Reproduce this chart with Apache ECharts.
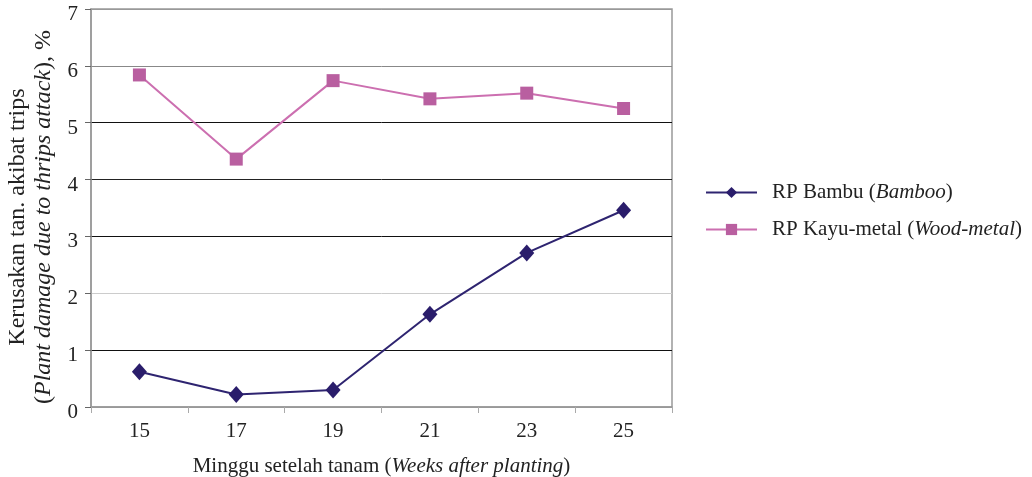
<!DOCTYPE html>
<html><head><meta charset="utf-8">
<script src="https://cdn.jsdelivr.net/npm/echarts@6/dist/echarts.min.js"></script>
<style>html,body{margin:0;padding:0;background:#fff}#c{width:1032px;height:477px}</style>
</head><body><div id="c"></div>
<script>
const weeks = ['15','17','19','21','23','25'];
const bambu = [0.62, 0.22, 0.30, 1.63, 2.71, 3.46];
const kayuMetal = [5.84, 4.36, 5.74, 5.42, 5.52, 5.25];
const yTicks = [0,1,2,3,4,5,6,7];

const F = '"Liberation Serif","Times New Roman",serif';
const chart = echarts.init(document.getElementById('c'));
chart.setOption({
  animation: false,
  backgroundColor: '#fff',
  grid: {left: 91, right: 360, top: 9, bottom: 70, show: true, borderColor: '#999', borderWidth: 1.5, outerBoundsMode: 'none', containLabel: false},
  legend: {
    orient: 'vertical', left: 700, top: 177, itemWidth: 51, itemHeight: 14, itemGap: 16,
    textStyle: {fontFamily: F, fontSize: 21, color: '#222', padding: [0, 0, 0, 10],
      rich: {i: {fontFamily: F, fontSize: 21, fontStyle: 'italic', color: '#222'}}},
    formatter: function (n) {
      if (n === 'RP Bambu') return 'RP Bambu ({i|Bamboo})';
      return 'RP Kayu-metal ({i|Wood-metal})';
    },
    data: ['RP Bambu', 'RP Kayu-metal']
  },
  xAxis: {
    type: 'category', data: weeks, boundaryGap: true,
    axisLine: {lineStyle: {color: '#999', width: 1.5}},
    axisTick: {show: true, length: 6, lineStyle: {color: '#aaa'}},
    axisLabel: {fontFamily: F, fontSize: 21, color: '#222', margin: 14},
    name: 'Minggu setelah tanam ({i|Weeks after planting})',
    nameLocation: 'middle', nameGap: 49,
    nameTextStyle: {fontFamily: F, fontSize: 21, color: '#222', rich: {i: {fontFamily: F, fontSize: 21, fontStyle: 'italic', color: '#222'}}}
  },
  yAxis: {
    type: 'value', min: yTicks[0], max: yTicks[yTicks.length - 1], interval: 1,
    axisLine: {show: true, lineStyle: {color: '#999', width: 1.5}},
    axisTick: {show: true, length: 6, lineStyle: {color: '#666'}},
    axisLabel: {fontFamily: F, fontSize: 21, color: '#222', margin: 13, verticalAlign: 'top', lineHeight: 11},
    splitLine: {show: true, lineStyle: {color: ['#999', '#111', '#ccc', '#111', '#222', '#111', '#888', '#999'], width: 1}},
    name: '{a|Kerusakan tan. akibat trips}\n{a|(}{i|Plant damage due to thrips attack}{a|), %}',
    nameLocation: 'middle', nameRotate: 90, nameGap: 26,
    nameTextStyle: {
      fontFamily: F, fontSize: 24, color: '#222', lineHeight: 26, padding: [0, 18, 0, 0],
      rich: {
        a: {fontFamily: F, fontSize: 24, color: '#222', lineHeight: 26},
        i: {fontFamily: F, fontSize: 24, fontStyle: 'italic', color: '#222', lineHeight: 26}
      }
    }
  },
  series: [
    {name: 'RP Bambu', type: 'line', data: bambu, symbol: 'diamond', symbolSize: [15, 17],
     lineStyle: {color: '#2e2470', width: 2}, itemStyle: {color: '#2a1d6b'}},
    {name: 'RP Kayu-metal', type: 'line', data: kayuMetal, symbol: 'rect', symbolSize: 13,
     lineStyle: {color: '#cc6fb0', width: 2}, itemStyle: {color: '#b95fa0'}}
  ]
});
</script></body></html>
